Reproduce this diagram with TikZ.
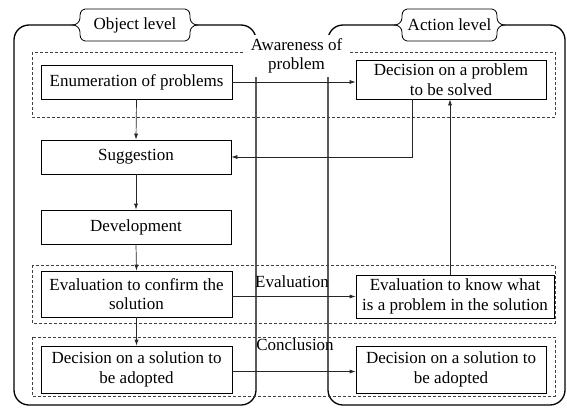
\documentclass[tikz,border=0pt]{standalone}
\usepackage{fontspec}
\setmainfont{Liberation Serif}
\usetikzlibrary{arrows.meta}
\begin{document}
\begin{tikzpicture}[x=1pt,y=-1pt,
  txt/.style={font=\fontsize{17}{19.5}\selectfont},
  box/.style={txt, draw, line width=0.7pt, inner sep=0pt, align=center},
  arr/.style={-{Latex[length=6pt,width=4pt]}, line width=0.7pt, draw=black!85},
  bigrect/.style={line width=1.3pt, rounded corners=15pt},
  grp/.style={dashed, dash pattern=on 3pt off 2pt, line width=0.6pt, draw=black!75},
  lbl/.style={txt, inner sep=0pt},
  brace/.style={line width=0.8pt, fill=white}]
\useasboundingbox (0,0) rectangle (567,407);
\newcommand{\lvllabel}[4]{%
  \draw[brace] (#2+12,9) -- (#3-12,9)
    .. controls (#3-7,10) and (#3-7,14) .. (#3-7,18)
    .. controls (#3-7,22) and (#3-3,25) .. (#3,25)
    .. controls (#3-3,25) and (#3-7,28) .. (#3-7,32)
    .. controls (#3-7,36) and (#3-7,40) .. (#3-12,41)
    -- (#2+12,41)
    .. controls (#2+7,40) and (#2+7,36) .. (#2+7,32)
    .. controls (#2+7,28) and (#2+3,25) .. (#2,25)
    .. controls (#2+3,25) and (#2+7,22) .. (#2+7,18)
    .. controls (#2+7,14) and (#2+7,10) .. (#2+12,9) -- cycle;
  \node[lbl] (#1) at ({(#2+#3)/2},25) {#4};}
% level frames
\draw[bigrect] (14,25) rectangle (256,405);
\draw[bigrect] (328,25) rectangle (565,405);
% groups
\draw[grp] (32,52) rectangle (555,117);
\draw[grp] (32,265) rectangle (555,323);
\draw[grp] (32,337) rectangle (555,396);
% level labels
\lvllabel{ol}{73}{197}{Object level}
\lvllabel{al}{395}{504}{Action level}
% awareness label
\node[txt, fill=white, minimum width=105pt, minimum height=42pt, inner sep=0pt, align=center] (aw) at (296.5,56) {Awareness of\\problem};
% boxes
\node[box, minimum width=191pt, minimum height=34pt] (enum) at (136.5,82) {Enumeration of problems};
\node[box, minimum width=190pt, minimum height=34pt] (sugg) at (136,157) {Suggestion};
\node[box, minimum width=190pt, minimum height=34pt] (dev) at (136,227) {Development};
\node[box, minimum width=191pt, minimum height=46pt] (evalc) at (136.5,294) {Evaluation to confirm the\\solution};
\node[box, minimum width=191pt, minimum height=47pt] (decl) at (136.5,369.5) {Decision on a solution to\\be adopted};
\node[box, minimum width=190pt, minimum height=39pt] (decp) at (451,79.5) {Decision on a problem\\to be solved};
\node[box, minimum width=198pt, minimum height=43pt] (evalk) at (455,296.5) {Evaluation to know what\\is a problem in the solution};
\node[box, minimum width=190pt, minimum height=47pt] (decr) at (451,369.5) {Decision on a solution to\\be adopted};
% edge labels
\node[txt, inner sep=0pt] (le) at (292,282) {Evaluation};
\node[txt, inner sep=0pt] (lc) at (295,345) {Conclusion};
% connectors
\draw[arr] (enum.east) -- (decp.west |- enum.east);
\draw[arr] (enum.south) -- (sugg.north);
\draw[arr] ([xshift=-39pt]decp.south) |- (sugg.east);
\draw[arr] (sugg.south) -- (dev.north);
\draw[arr] (dev.south) -- (evalc.north);
\draw[arr] (evalc.south) -- (decl.north);
\draw[arr] (evalc.east |- evalk.west) -- (evalk.west);
\draw[arr] ([xshift=-5pt]evalk.north) -- ([xshift=-5pt]evalk.north |- decp.south);
\draw[arr] ([yshift=-2pt]decl.east) -- ([yshift=-2pt]decr.west);
\end{tikzpicture}
\end{document}
